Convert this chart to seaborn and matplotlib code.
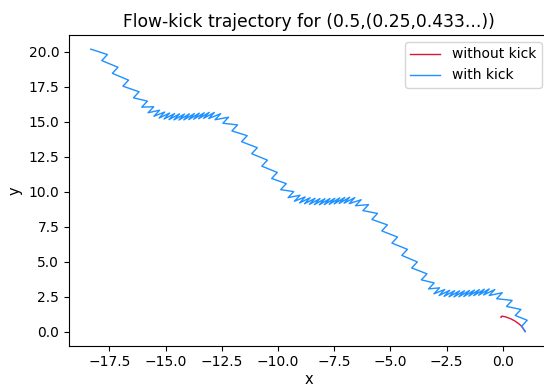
import matplotlib
matplotlib.use("Agg")
import matplotlib.pyplot as plt
import seaborn as sns
import pandas as pd

title = "Flow-kick trajectory for (0.5,(0.25,0.433...))"
legend_labels = ["without kick", "with kick"]

without_kick_x = [1.00, 0.93, 0.84, 0.70, 0.52, 0.32, 0.13, -0.01, -0.07, -0.07]
without_kick_y = [0.00, 0.18, 0.38, 0.58, 0.78, 0.94, 1.05, 1.10, 1.08, 1.02]

with_kick_x = [
    1.00,
    0.84, 1.09, 0.56, 0.81, 0.17, 0.42, -0.27, -0.02,
    -0.60, -0.35, -0.85, -0.60, -1.07, -0.82, -1.29, -1.04,
    -1.51, -1.26, -1.73, -1.48, -1.95, -1.70, -2.17, -1.92,
    -2.39, -2.14, -2.61, -2.36, -2.83, -2.58, -3.06, -2.81,
    -3.30, -3.05, -3.62, -3.37, -4.05, -3.80, -4.49, -4.24,
    -4.93, -4.68, -5.38, -5.13, -5.82, -5.57, -6.22, -5.97,
    -6.55, -6.30, -6.83, -6.58, -7.06, -6.81, -7.28, -7.03,
    -7.50, -7.25, -7.72, -7.47, -7.94, -7.69, -8.16, -7.91,
    -8.38, -8.13, -8.60, -8.35, -8.82, -8.57, -9.04, -8.79,
    -9.27, -9.02, -9.55, -9.30, -9.88, -9.63, -10.28, -10.03,
    -10.72, -10.47, -11.17, -10.92, -11.62, -11.37, -12.05, -11.80,
    -12.45, -12.20, -12.80, -12.55, -13.08, -12.83, -13.31, -13.06,
    -13.53, -13.28, -13.75, -13.50, -13.97, -13.72, -14.19, -13.94,
    -14.41, -14.16, -14.63, -14.38, -14.85, -14.60, -15.07, -14.82,
    -15.29, -15.04, -15.52, -15.27, -15.78, -15.53, -16.06, -15.81,
    -16.43, -16.18, -16.90, -16.65, -17.37, -17.12, -17.84, -17.59,
    -18.33,
]
with_kick_y = [
    0.00,
    0.38, 0.81, 1.15, 1.58, 1.80, 2.23, 2.35, 2.78,
    2.58, 3.01, 2.62, 3.05, 2.60, 3.03, 2.57, 3.00,
    2.54, 2.97, 2.51, 2.94, 2.49, 2.92, 2.48, 2.91,
    2.49, 2.92, 2.52, 2.95, 2.58, 3.01, 2.70, 3.13,
    3.05, 3.48, 3.70, 4.13, 4.55, 4.98, 5.45, 5.88,
    6.33, 6.76, 7.20, 7.63, 8.02, 8.45, 8.65, 9.08,
    9.00, 9.43, 9.15, 9.58, 9.18, 9.61, 9.16, 9.59,
    9.13, 9.56, 9.10, 9.53, 9.08, 9.51, 9.07, 9.50,
    9.08, 9.51, 9.10, 9.53, 9.14, 9.57, 9.20, 9.63,
    9.32, 9.75, 9.58, 10.01, 10.15, 10.58, 10.95, 11.38,
    11.83, 12.26, 12.72, 13.15, 13.58, 14.01, 14.35, 14.78,
    14.90, 15.33, 15.15, 15.58, 15.24, 15.67, 15.25, 15.68,
    15.22, 15.65, 15.19, 15.62, 15.16, 15.59, 15.14, 15.57,
    15.13, 15.56, 15.14, 15.57, 15.16, 15.59, 15.20, 15.63,
    15.27, 15.70, 15.40, 15.83, 15.65, 16.08, 16.05, 16.48,
    16.72, 17.15, 17.55, 17.98, 18.47, 18.90, 19.38, 19.81,
    20.20,
]

df_without = pd.DataFrame({"x": without_kick_x, "y": without_kick_y})
df_with = pd.DataFrame({"x": with_kick_x, "y": with_kick_y})

fig = plt.figure(figsize=(5.44, 3.88), dpi=100)
ax = fig.add_axes([0.1268, 0.109, 0.8824, 0.8008])

sns.lineplot(data=df_without, x="x", y="y", sort=False, estimator=None,
             color="crimson", linewidth=1.0, label=legend_labels[0], ax=ax)
sns.lineplot(data=df_with, x="x", y="y", sort=False, estimator=None,
             color="dodgerblue", linewidth=1.0, label=legend_labels[1], ax=ax)

ax.set_xlim(-19.30, 2.06)
ax.set_ylim(-1.01, 21.21)
ax.set_title(title, fontsize=12.3)
ax.set_xlabel("x", fontsize=10.5, labelpad=1.5)
ax.set_ylabel("y", fontsize=10.5)
ax.legend(loc="upper right", handlelength=2.1, handletextpad=0.9)

fig.savefig("out.png", dpi=100)
